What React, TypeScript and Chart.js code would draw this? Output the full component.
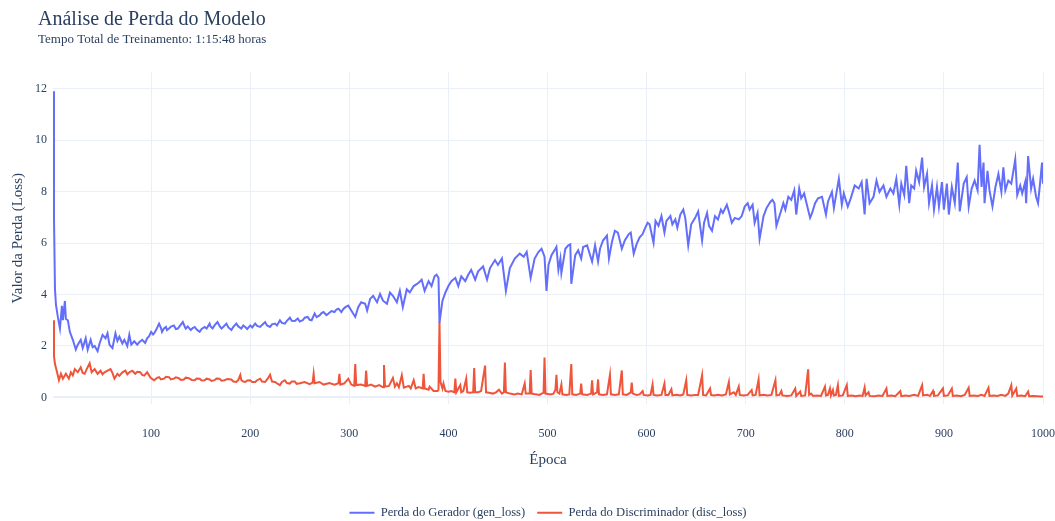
import React, { useEffect, useRef } from "react";
import { Chart, registerables } from "chart.js";

Chart.register(...registerables);

const TITLE = "Análise de Perda do Modelo";
const SUBTITLE = "Tempo Total de Treinamento: 1:15:48 horas";
const X_TITLE = "Época";
const Y_TITLE = "Valor da Perda (Loss)";
const GEN_LABEL = "Perda do Gerador (gen_loss)";
const DISC_LABEL = "Perda do Discriminador (disc_loss)";

const genEpochs = [
  1, 2, 3, 4, 6, 8, 10, 11, 13, 14, 16, 18, 21, 24, 26, 29, 31, 34, 36, 39, 41, 43, 46, 48, 51, 54, 56, 58, 61, 64, 66, 68, 71, 73, 76, 78, 80, 83, 86, 88, 91, 94, 96, 98,
  100, 102, 103, 105, 108, 110, 111, 113, 115, 116, 118, 120, 123, 125, 127, 129, 132, 134, 135, 137, 140, 142, 144, 146, 149, 151, 154, 156, 159, 160, 162, 164, 167, 169, 171, 173, 176, 178, 181, 183, 186, 188, 191, 193, 195, 197,
  200, 202, 205, 207, 210, 212, 215, 217, 220, 222, 225, 227, 230, 232, 235, 237, 240, 242, 245, 248, 250, 253, 255, 258, 260, 262, 265, 267, 270, 272, 274, 277, 279, 282, 285, 287, 289, 292, 294, 296, 299,
  302, 306, 309, 312, 316, 318, 321, 324, 328, 331, 334, 338, 341, 344, 348, 351, 354, 358, 361, 365, 370, 373, 376, 380, 383, 386, 388, 390, 391, 394, 397,
  400, 403, 407, 410, 413, 417, 420, 423, 427, 430, 435, 439, 442, 447, 450, 454, 458, 462, 467, 472, 476, 479, 483, 487, 491, 494, 497, 499,
  501, 504, 508, 509, 511, 513, 514, 518, 521, 523, 524, 528, 531, 534, 536, 540, 543, 545, 548, 551, 553, 556, 560, 562, 565, 568, 571, 575, 578, 582, 584, 587, 590, 593, 596, 598,
  601, 603, 607, 609, 612, 615, 618, 620, 624, 626, 629, 631, 634, 637, 639, 642, 645, 649, 652, 656, 658, 661, 663, 666, 669, 672, 675, 677, 681, 683, 686, 689, 693, 696, 699,
  702, 704, 707, 709, 712, 714, 718, 721, 725, 727, 729, 731, 735, 738, 740, 743, 746, 749, 751, 754, 756, 759, 761, 765, 767, 770, 773, 777, 781, 783, 787, 789, 792, 794, 797, 799,
  803, 806, 810, 814, 817, 820, 822, 825, 829, 832, 835, 839, 842, 846, 849, 852, 855, 857, 860, 862, 865, 867, 870, 872, 875, 878, 880, 883, 885, 888, 890, 893, 895, 898, 900,
  903, 905, 908, 911, 914, 916, 920, 923, 925, 928, 931, 934, 936, 938, 940, 941, 944, 946, 949, 952, 955, 958, 960, 962, 965, 968, 972, 974, 977, 979, 982, 983, 985, 988, 990, 993, 995, 997, 999, 1000,
];

const genLoss = [
  11.9, 7.0, 4.2, 3.6, 3.1, 2.68, 3.56, 3.0, 3.75, 3.05, 3.0, 2.55, 2.24, 1.86, 2.05, 2.24, 1.92, 2.3, 1.86, 2.24, 1.95, 2.0, 1.8, 2.1, 2.43, 2.3, 2.5, 2.05, 1.92, 2.49, 2.2, 2.36, 2.1, 2.24, 2.0, 2.43, 2.05, 2.18, 2.05, 2.15, 2.24, 2.12, 2.3, 2.38,
  2.55, 2.45, 2.49, 2.62, 2.87, 2.7, 2.55, 2.68, 2.74, 2.62, 2.68, 2.75, 2.8, 2.66, 2.68, 2.78, 2.93, 2.75, 2.68, 2.76, 2.62, 2.7, 2.74, 2.64, 2.55, 2.66, 2.74, 2.68, 2.87, 2.76, 2.68, 2.8, 2.93, 2.78, 2.68, 2.75, 2.87, 2.72, 2.62, 2.74, 2.87, 2.76, 2.68, 2.8, 2.74, 2.66,
  2.8, 2.72, 2.87, 2.78, 2.74, 2.82, 2.93, 2.8, 2.74, 2.84, 2.87, 2.8, 3.0, 2.9, 2.87, 2.98, 3.1, 2.98, 2.97, 3.07, 2.95, 3.0, 3.1, 3.13, 3.02, 3.0, 3.26, 3.12, 3.19, 3.28, 3.32, 3.2, 3.26, 3.36, 3.32, 3.42, 3.45, 3.32, 3.44, 3.51, 3.57,
  3.38, 3.13, 3.51, 3.7, 3.64, 3.38, 3.83, 3.95, 3.7, 4.02, 3.76, 3.64, 4.08, 3.95, 3.7, 4.14, 3.51, 4.2, 4.08, 4.33, 4.46, 4.58, 4.14, 4.52, 4.33, 4.71, 4.77, 4.65, 2.9, 3.76, 4.08,
  4.33, 4.52, 4.65, 4.33, 4.71, 4.52, 4.77, 4.96, 4.58, 4.9, 5.09, 4.58, 5.03, 5.34, 5.15, 5.4, 4.14, 5.03, 5.4, 5.59, 5.47, 5.66, 4.65, 5.4, 5.66, 5.78, 5.47, 4.14,
  5.15, 5.53, 5.78, 5.85, 4.96, 5.4, 4.84, 5.78, 5.91, 5.95, 4.42, 5.53, 5.72, 5.4, 5.85, 5.91, 5.53, 5.28, 5.91, 5.28, 5.78, 6.1, 6.29, 5.4, 6.04, 6.48, 6.41, 5.78, 6.1, 6.35, 6.41, 5.59, 5.97, 6.22, 6.35, 6.54,
  6.79, 6.73, 6.01, 6.86, 6.67, 7.05, 6.41, 6.86, 7.05, 6.73, 6.92, 6.6, 7.11, 7.3, 6.98, 5.91, 6.73, 6.98, 7.23, 6.1, 6.79, 7.17, 6.67, 6.48, 7.05, 6.92, 7.3, 7.17, 7.49, 7.23, 6.79, 6.98, 6.92, 7.05, 7.42,
  7.55, 7.3, 7.49, 6.79, 7.17, 6.16, 7.05, 7.36, 7.61, 7.68, 7.55, 6.67, 7.17, 7.55, 7.3, 7.8, 7.68, 8.05, 7.11, 8.12, 7.74, 7.93, 7.61, 6.98, 7.17, 7.55, 7.74, 7.8, 7.11, 7.61, 7.99, 7.36, 8.05, 8.5, 7.49, 7.93,
  7.42, 7.74, 8.24, 8.12, 8.37, 7.11, 8.5, 7.55, 7.8, 8.43, 7.99, 8.24, 7.8, 8.12, 7.93, 8.5, 7.49, 8.31, 7.87, 9.0, 7.55, 8.24, 8.12, 8.81, 8.37, 9.32, 8.18, 8.69, 7.55, 8.24, 7.3, 8.18, 7.42, 8.37, 7.3,
  8.31, 7.11, 8.18, 7.55, 9.13, 7.23, 8.31, 8.56, 7.42, 8.12, 8.43, 8.05, 9.82, 8.18, 9.13, 7.55, 8.81, 8.05, 7.42, 8.18, 8.69, 7.99, 8.94, 8.05, 8.43, 8.31, 9.25, 7.87, 8.24, 7.93, 8.37, 7.55, 9.38, 8.12, 8.5, 7.8, 7.55, 8.31, 9.13, 8.31,
];

const discEpochs = [
  1, 2, 3, 5, 7, 9, 11, 14, 17, 19, 21, 23, 26, 29, 31, 33, 35, 38, 40, 43, 46, 49, 51, 53, 56, 59, 61, 63, 66, 68, 71, 74, 76, 78, 81, 84, 86, 89, 91, 93, 96, 99,
  101, 103, 106, 108, 110, 113, 115, 118, 120, 123, 125, 128, 130, 133, 135, 138, 141, 144, 146, 149, 151, 154, 156, 159, 161, 164, 166, 169, 171, 174, 177, 181, 183, 186, 188, 190, 191, 193, 195, 197,
  200, 202, 205, 207, 210, 212, 215, 218, 220, 222, 225, 227, 230, 232, 235, 237, 240, 242, 245, 247, 250, 255, 260, 263, 264, 265, 270, 274, 280, 285, 289, 290, 291, 295, 299,
  302, 305, 306, 307, 312, 316, 317, 318, 322, 326, 330, 334, 335, 336, 340, 344, 346, 348, 350, 353, 355, 360, 362, 365, 367, 370, 374, 375, 376, 380, 381, 385, 389, 390, 391, 392, 394, 395, 397,
  400, 403, 406, 407, 408, 412, 413, 415, 418, 419, 422, 425, 426, 427, 430, 433, 437, 438, 441, 445, 448, 451, 454, 456, 457, 458, 462, 467, 470, 474, 477, 478, 482, 483, 484, 488, 492, 494, 496, 497, 498,
  503, 506, 508, 509, 510, 512, 514, 515, 519, 522, 524, 525, 529, 533, 534, 535, 540, 544, 545, 546, 550, 551, 552, 556, 560, 563, 564, 568, 572, 575, 576, 580, 584, 585, 586, 590, 593, 596, 597,
  601, 604, 606, 607, 611, 615, 618, 619, 622, 625, 626, 630, 634, 637, 640, 641, 645, 649, 652, 656, 657, 660, 664, 665, 668, 672, 676, 680, 683, 684, 688, 690, 693, 694, 698,
  702, 706, 707, 710, 713, 714, 718, 722, 726, 730, 731, 734, 736, 737, 742, 746, 750, 751, 755, 756, 760, 763, 764, 766, 768, 772, 776, 780, 781, 783, 785, 786, 788, 789, 791, 793, 794, 798,
  802, 803, 807, 811, 815, 818, 820, 821, 824, 825, 830, 834, 838, 842, 843, 847, 851, 856, 857, 861, 865, 870, 874, 878, 879, 883, 886, 889, 890, 894, 899, 900,
  904, 908, 909, 913, 917, 921, 925, 926, 930, 934, 938, 941, 945, 946, 950, 954, 958, 962, 965, 968, 969, 973, 974, 978, 982, 985, 986, 990, 994, 999, 1000,
];

const discLoss = [
  3.0, 1.6, 1.3, 1.0, 0.67, 0.92, 0.73, 0.92, 0.73, 0.98, 0.86, 1.1, 0.98, 1.17, 0.95, 0.92, 1.1, 1.33, 0.98, 1.1, 0.92, 1.04, 0.9, 0.98, 1.04, 1.1, 0.95, 0.73, 0.92, 0.84, 0.98, 1.04, 0.9, 0.98, 1.04, 0.92, 1.0, 0.98, 0.88, 0.85, 0.98, 0.79,
  0.72, 0.67, 0.76, 0.79, 0.7, 0.73, 0.8, 0.79, 0.7, 0.73, 0.78, 0.75, 0.68, 0.7, 0.77, 0.75, 0.68, 0.67, 0.74, 0.73, 0.66, 0.67, 0.73, 0.7, 0.64, 0.67, 0.74, 0.73, 0.65, 0.67, 0.72, 0.7, 0.62, 0.6, 0.68, 0.87, 0.68, 0.62, 0.6, 0.66,
  0.67, 0.6, 0.6, 0.67, 0.73, 0.62, 0.6, 0.75, 0.88, 0.62, 0.6, 0.55, 0.48, 0.6, 0.67, 0.56, 0.54, 0.62, 0.62, 0.53, 0.55, 0.6, 0.52, 0.58, 0.92, 0.55, 0.6, 0.5, 0.56, 0.5, 0.55, 0.92, 0.5, 0.55, 0.73,
  0.5, 0.45, 1.3, 0.48, 0.5, 0.45, 1.05, 0.45, 0.5, 0.42, 0.48, 0.4, 1.26, 0.42, 0.45, 0.76, 0.42, 0.55, 0.4, 0.86, 0.38, 0.45, 0.35, 0.67, 0.35, 0.4, 0.35, 0.92, 0.35, 0.3, 0.42, 0.25, 0.25, 0.3, 2.94, 0.6, 0.35, 0.54, 0.25,
  0.22, 0.25, 0.2, 0.73, 0.2, 0.48, 0.2, 0.25, 0.73, 0.2, 0.18, 0.2, 1.14, 0.2, 0.2, 0.25, 1.24, 0.2, 0.18, 0.15, 0.2, 0.3, 0.15, 0.2, 1.36, 0.2, 0.15, 0.12, 0.15, 0.12, 0.54, 0.15, 0.15, 1.07, 0.15, 0.12, 0.1, 0.15, 0.18, 1.55, 0.15,
  0.12, 0.15, 0.3, 0.88, 0.2, 0.15, 0.5, 0.12, 0.1, 0.12, 1.3, 0.12, 0.1, 0.15, 0.54, 0.12, 0.1, 0.15, 0.67, 0.12, 0.2, 0.7, 0.12, 0.1, 0.12, 0.88, 0.12, 0.1, 0.12, 1.05, 0.12, 0.1, 0.2, 0.58, 0.15, 0.1, 0.12, 0.25, 0.1,
  0.08, 0.1, 0.5, 0.1, 0.08, 0.1, 0.54, 0.1, 0.1, 0.32, 0.08, 0.1, 0.08, 0.12, 0.67, 0.1, 0.08, 0.1, 0.1, 0.86, 0.1, 0.08, 0.35, 0.1, 0.08, 0.1, 0.08, 0.12, 0.6, 0.12, 0.2, 0.1, 0.42, 0.1, 0.08,
  0.1, 0.29, 0.08, 0.1, 0.7, 0.08, 0.1, 0.08, 0.1, 0.67, 0.08, 0.1, 0.25, 0.08, 0.06, 0.08, 0.35, 0.06, 0.23, 0.06, 0.08, 1.09, 0.1, 0.15, 0.06, 0.08, 0.06, 0.42, 0.08, 0.1, 0.35, 0.08, 0.29, 0.08, 0.1, 0.48, 0.06, 0.08,
  0.48, 0.06, 0.08, 0.05, 0.08, 0.06, 0.39, 0.08, 0.2, 0.06, 0.05, 0.08, 0.06, 0.35, 0.06, 0.08, 0.05, 0.25, 0.05, 0.08, 0.06, 0.1, 0.06, 0.48, 0.08, 0.1, 0.06, 0.25, 0.06, 0.08, 0.35, 0.06,
  0.08, 0.35, 0.06, 0.08, 0.05, 0.1, 0.38, 0.06, 0.08, 0.06, 0.1, 0.06, 0.38, 0.06, 0.08, 0.06, 0.1, 0.06, 0.15, 0.48, 0.08, 0.35, 0.06, 0.08, 0.05, 0.23, 0.05, 0.06, 0.05, 0.04, 0.04,
];

const xTickValues = [100, 200, 300, 400, 500, 600, 700, 800, 900, 1000];
const yTickValues = [0, 2, 4, 6, 8, 10, 12];

const GEN_COLOR = "#636efa";
const DISC_COLOR = "#EF553B";
const TEXT_COLOR = "#2a3f5f";
const GRID_COLOR = "#EBF0F8";
const FONT = "'Liberation Serif', 'Times New Roman', serif";

const titlePlugin = {
  id: "titleBlock",
  afterLayout(chart: any) {
    const lg = chart.legend;
    if (lg) {
      const shift = (chart.chartArea.left + chart.chartArea.right) / 2 - (lg.left + lg.right) / 2;
      lg.left += shift;
      lg.right += shift;
    }
  },
  afterDraw(chart: any) {
    const ctx = chart.ctx;
    ctx.save();
    ctx.fillStyle = TEXT_COLOR;
    ctx.textAlign = "left";
    ctx.textBaseline = "middle";
    ctx.font = `20px ${FONT}`;
    ctx.fillText(TITLE, 38, 20);
    ctx.font = `13px ${FONT}`;
    ctx.fillText(SUBTITLE, 38, 40);
    ctx.restore();
  },
};

export default function App() {
  const ref = useRef<HTMLCanvasElement | null>(null);

  useEffect(() => {
    if (!ref.current) return;
    const genData = genEpochs.map((e, i) => ({ x: e, y: genLoss[i] }));
    const discData = discEpochs.map((e, i) => ({ x: e, y: discLoss[i] }));
    const chart = new Chart(ref.current, {
      type: "line",
      data: {
        datasets: [
          {
            label: GEN_LABEL,
            data: genData,
            borderColor: GEN_COLOR,
            backgroundColor: GEN_COLOR,
            borderWidth: 2,
            pointRadius: 0,
            tension: 0,
          },
          {
            label: DISC_LABEL,
            data: discData,
            borderColor: DISC_COLOR,
            backgroundColor: DISC_COLOR,
            borderWidth: 2,
            pointRadius: 0,
            tension: 0,
          },
        ],
      },
      options: {
        responsive: false,
        animation: false,
        layout: { padding: { top: 72, right: 12, left: 0, bottom: -8 } },
        plugins: {
          title: { display: false },
          tooltip: { enabled: false },
          legend: {
            display: true,
            position: "bottom",
            align: "center",
            labels: {
              usePointStyle: true,
              pointStyle: "line",
              pointStyleWidth: 25,
              boxHeight: 12,
              padding: 12,
              color: TEXT_COLOR,
              font: { family: FONT, size: 12.6 },
            },
          },
        },
        scales: {
          x: {
            type: "linear",
            min: 1,
            max: 1000,
            border: { display: false },
            grid: { color: GRID_COLOR, lineWidth: 1, drawTicks: true, tickLength: 19, tickColor: "rgba(0,0,0,0)" },
            afterBuildTicks: (s: any) => {
              s.ticks = xTickValues.map((v) => ({ value: v }));
            },
            ticks: {
              padding: 3,
              color: TEXT_COLOR,
              font: { family: FONT, size: 12 },
              maxRotation: 0,
              autoSkip: false,
              callback: (v: any) => String(v),
            },
            title: {
              display: true,
              text: X_TITLE,
              color: TEXT_COLOR,
              font: { family: FONT, size: 15 },
              padding: { top: 0, bottom: 25 },
            },
            afterFit: (s: any) => {
              s.height = 90;
              s.paddingRight = 12;
              s.paddingLeft = 0;
            },
          },
          y: {
            type: "linear",
            min: -0.27,
            max: 12.65,
            border: { display: false },
            grid: {
              color: GRID_COLOR,
              drawTicks: false,
              lineWidth: (c: any) => (c.tick && c.tick.value === 0 ? 2 : 1),
            },
            afterBuildTicks: (s: any) => {
              s.ticks = yTickValues.map((v) => ({ value: v }));
            },
            ticks: {
              padding: 6,
              color: TEXT_COLOR,
              font: { family: FONT, size: 12 },
              autoSkip: false,
              callback: (v: any) => String(v),
            },
            title: {
              display: true,
              text: Y_TITLE,
              color: TEXT_COLOR,
              font: { family: FONT, size: 15 },
              padding: { top: 9, bottom: 0 },
            },
            afterFit: (s: any) => {
              s.width = 53;
            },
          },
        },
      },
      plugins: [titlePlugin],
    });
    return () => chart.destroy();
  }, []);

  return (
    <div style={{ position: "absolute", left: 0, top: 0, width: 1055, height: 521, background: "#fff" }}>
      <canvas ref={ref} width={1055} height={521} style={{ display: "block" }} />
    </div>
  );
}
